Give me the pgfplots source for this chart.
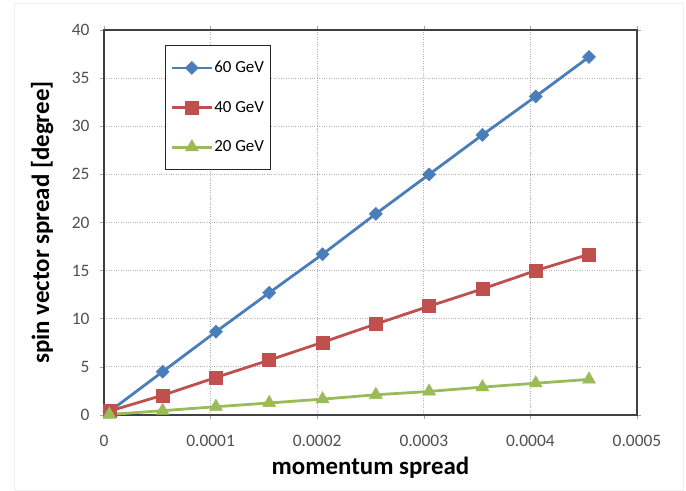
\documentclass[border=0pt]{standalone}
\usepackage{fontspec}
\setmainfont{Carlito}
\usepackage{pgfplots}
\pgfplotsset{compat=1.18}
\definecolor{sblue}{HTML}{4A7EBB}
\definecolor{sred}{HTML}{C0504D}
\definecolor{sgreen}{HTML}{9BBB59}
\definecolor{tickgray}{HTML}{505050}
\begin{document}
\begin{tikzpicture}
\fill[white] (-104bp,-76bp) rectangle (582bp,415bp);
\draw[gray!12] (-90bp,-75bp) rectangle (579bp,412bp);
\begin{axis}[
  at={(0,0)}, anchor=south west,
  scale only axis, width=533bp, height=385bp,
  xmin=0, xmax=0.0005, ymin=0, ymax=40,
  scaled x ticks=false,
  xtick={0,0.0001,0.0002,0.0003,0.0004,0.0005},
  xticklabels={0,0.0001,0.0002,0.0003,0.0004,0.0005},
  ytick={0,5,...,40},
  /pgf/number format/assume math mode=true,
  ticklabel style={font=\fontsize{17.5}{20}\selectfont, text=tickgray},
  xticklabel style={yshift=-13bp},
  yticklabel style={xshift=-7bp},
  tick align=outside, major tick length=4bp,
  tick style={gray!70, line width=0.6pt},
  grid=major,
  major grid style={gray!60, dotted, line width=0.9pt},
  axis line style={draw=black!75, line width=1.1pt},
  xlabel={\textbf{momentum spread}},
  ylabel={\textbf{spin vector spread [degree]}},
  label style={font=\fontsize{25}{28}\selectfont},
  xlabel style={at={(axis description cs:0.5,-0.138)}, anchor=center},
  ylabel style={at={(axis description cs:-0.116,0.5)}, anchor=center},
  legend style={at={(61bp,370bp)}, anchor=north west, draw=black!85, line width=1pt,
     font=\fontsize{17}{20}\selectfont, row sep=23bp, inner xsep=5bp, inner ysep=14bp,
     nodes={inner xsep=1bp}},
  legend cell align=left,
  legend image code/.code={\draw[#1, line width=2.8pt] (0cm,0cm) -- (40bp,0cm); \draw[#1, mark repeat=2, mark phase=2] plot coordinates {(0bp,0cm) (20bp,0cm) (40bp,0cm)};},
]
\addplot[sblue, line width=2.8pt, mark=square*, mark size=4.6bp, mark options={solid, rotate=45, line width=0.5pt}] coordinates {
(0.000005,0.35) (0.000055,4.5) (0.000105,8.65) (0.000155,12.7) (0.000205,16.7)
(0.000255,20.9) (0.000305,25.0) (0.000355,29.1) (0.000405,33.1) (0.000455,37.2)};
\addlegendentry{60 GeV}
\addplot[sred, line width=2.8pt, mark=square*, mark size=6.5bp, mark options={solid, line width=0.5pt}] coordinates {
(0.000005,0.4) (0.000055,2.05) (0.000105,3.9) (0.000155,5.7) (0.000205,7.55)
(0.000255,9.45) (0.000305,11.3) (0.000355,13.1) (0.000405,15.0) (0.000455,16.7)};
\addlegendentry{40 GeV}
\addplot[sgreen, line width=2.8pt, mark=triangle*, mark size=7.5bp, mark options={solid, line width=0.5pt}] coordinates {
(0.000005,0.05) (0.000055,0.45) (0.000105,0.86) (0.000155,1.25) (0.000205,1.65)
(0.000255,2.1) (0.000305,2.45) (0.000355,2.9) (0.000405,3.3) (0.000455,3.7)};
\addlegendentry{20 GeV}
\end{axis}
\end{tikzpicture}
\end{document}
